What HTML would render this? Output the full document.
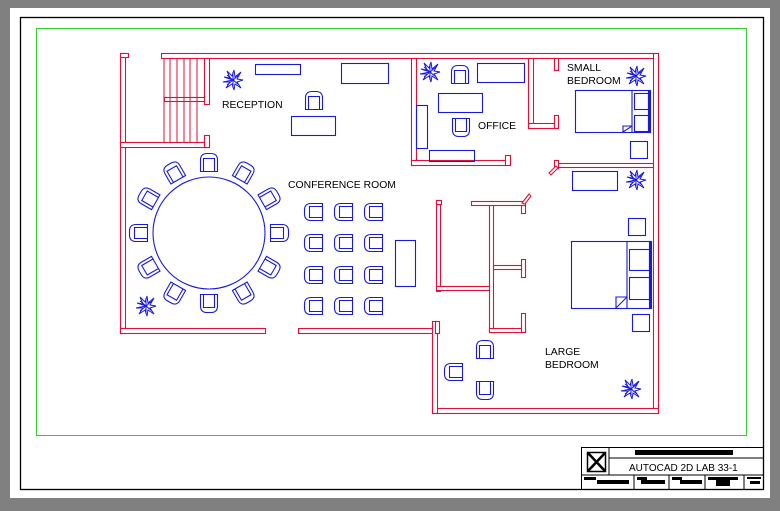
<!DOCTYPE html>
<html><head><meta charset="utf-8"><style>
body{margin:0;background:#808080;width:780px;height:511px;overflow:hidden}
svg{display:block}
text{font-family:"Liberation Sans",sans-serif;font-size:10.4px;fill:#000}
</style></head><body>
<svg width="780" height="511" viewBox="0 0 780 511" xmlns="http://www.w3.org/2000/svg">
<defs>
<g id="ch"><path d="M-8.5,8.5 V-3 Q-8.5,-9.5 -2,-9.5 H2 Q8.5,-9.5 8.5,-3 V8.5 Z M-5.5,8.5 V-4.5 H5.5 V8.5" fill="none" stroke="#1a1adc" stroke-width="1.1"/></g>
<g id="pl" stroke="#1a1adc" stroke-width="1" fill="none">
<path d="M0,0 L-9,-3 L-3,-2 L-6,-9 L-1,-4 L1,-10 L2,-3 L8,-8 L4,-1 L10,0 L4,2 L8,8 L2,4 L1,10 L-1,4 L-7,8 L-3,2 L-10,2 Z"/>
<path d="M-6,-5 L6,5 M-6,5 L6,-5 M0,-8 L0,8"/>
</g>
</defs>
<rect x="10" y="8" width="760" height="490" fill="#fff"/>
<rect x="20.5" y="17.5" width="743" height="472" fill="none" stroke="#000" stroke-width="1.3"/>
<rect x="36.5" y="28.5" width="710" height="407" fill="none" stroke="#3c3" stroke-width="1"/>

<g fill="#fff" stroke="#e0103a" stroke-width="1.1">
<rect x="120.5" y="53.5" width="5" height="280"/>
<rect x="120.5" y="53.5" width="8" height="4"/>
<rect x="161.5" y="53.5" width="497" height="5"/>
<rect x="653.5" y="53.5" width="5" height="360"/>
<rect x="120.5" y="328.5" width="145" height="5"/>
<rect x="298.5" y="328.5" width="139" height="5"/>
<rect x="432.5" y="408.5" width="226" height="5"/>
<rect x="432.5" y="321.5" width="5" height="92"/>
<rect x="120.5" y="142.5" width="89" height="5"/>
<rect x="204.5" y="58.5" width="5" height="46"/>
<rect x="204.5" y="135.5" width="5" height="12"/>
<rect x="164.5" y="97.5" width="40" height="4"/>
<rect x="411.5" y="58.5" width="5" height="107"/>
<rect x="411.5" y="160.5" width="99" height="5"/>
<rect x="505.5" y="155.5" width="5" height="10"/>
<rect x="528.5" y="58.5" width="5" height="70"/>
<rect x="528.5" y="123.5" width="29" height="5"/>
<rect x="554.5" y="115.5" width="4" height="13"/>
<rect x="554.5" y="58.5" width="4" height="12"/>
<rect x="556.5" y="163.5" width="97" height="4"/>
<rect x="554.5" y="160.5" width="4" height="8"/>
<path d="M549,173 L556,166 L558,168 L551,175 Z"/>
<rect x="436.5" y="200.5" width="4" height="91"/>
<rect x="436.5" y="200.5" width="5" height="4"/>
<rect x="436.5" y="286.5" width="53" height="4"/>
<rect x="489.5" y="201.5" width="4" height="131"/>
<rect x="471.5" y="201.5" width="54" height="4"/>
<path d="M522,203 L529,194 L531,196 L525,204 Z"/>
<rect x="521.5" y="205.5" width="4" height="8"/>
<rect x="493.5" y="265.5" width="32" height="4"/>
<rect x="521.5" y="259.5" width="4" height="18"/>
<rect x="489.5" y="328.5" width="36" height="4"/>
<rect x="521.5" y="313.5" width="4" height="19"/>
<rect x="435.5" y="321.5" width="4" height="12"/>
</g>
<g stroke="#e0103a" stroke-width="1">
<line x1="164" y1="58" x2="164" y2="142"/>
<line x1="170" y1="58" x2="170" y2="142"/><line x1="177" y1="58" x2="177" y2="142"/>
<line x1="184" y1="58" x2="184" y2="142"/><line x1="190" y1="58" x2="190" y2="142"/>
<line x1="197" y1="58" x2="197" y2="142"/>
</g>

<g fill="none" stroke="#1a1adc" stroke-width="1.1">
<circle cx="209" cy="233" r="56"/>
<rect x="255.5" y="64.5" width="45" height="10"/>
<rect x="341.5" y="63.5" width="47" height="20"/>
<rect x="291.5" y="116.5" width="44" height="19"/>
<rect x="477.5" y="63.5" width="47" height="19"/>
<rect x="438.5" y="93.5" width="44" height="19"/>
<rect x="416.5" y="105.5" width="11" height="43"/>
<rect x="429.5" y="150.5" width="45" height="11"/>
<rect x="395.5" y="240.5" width="20" height="46"/>
<rect x="575.5" y="90.5" width="74" height="42"/>
<line x1="632" y1="90" x2="632" y2="132"/>
<rect x="634.5" y="93.5" width="14" height="16"/><rect x="634.5" y="115.5" width="14" height="16"/>
<rect x="648.5" y="90.5" width="2" height="42"/>
<path d="M623,132 L623,126 L632,126"/><line x1="623" y1="132" x2="632" y2="126"/>
<rect x="630.5" y="141.5" width="17" height="17"/>
<rect x="572.5" y="171.5" width="45" height="19"/>
<rect x="628.5" y="218.5" width="17" height="17"/>
<rect x="571.5" y="241.5" width="79" height="67"/>
<line x1="627" y1="241" x2="627" y2="308"/>
<rect x="629.5" y="249.5" width="20" height="21"/><rect x="629.5" y="277.5" width="20" height="22"/>
<rect x="649.5" y="241.5" width="2" height="67"/>
<path d="M616,308 L616,297 L627,297"/><line x1="616" y1="308" x2="627" y2="297"/>
<rect x="632.5" y="314.5" width="17" height="17"/>
</g>

<g transform="translate(209,233)">
<use href="#ch" transform="rotate(0) translate(0,-70)"/>
<use href="#ch" transform="rotate(30) translate(0,-70)"/>
<use href="#ch" transform="rotate(60) translate(0,-70)"/>
<use href="#ch" transform="rotate(90) translate(0,-70)"/>
<use href="#ch" transform="rotate(120) translate(0,-70)"/>
<use href="#ch" transform="rotate(150) translate(0,-70)"/>
<use href="#ch" transform="rotate(180) translate(0,-70)"/>
<use href="#ch" transform="rotate(210) translate(0,-70)"/>
<use href="#ch" transform="rotate(240) translate(0,-70)"/>
<use href="#ch" transform="rotate(270) translate(0,-70)"/>
<use href="#ch" transform="rotate(300) translate(0,-70)"/>
<use href="#ch" transform="rotate(330) translate(0,-70)"/>
</g>
<g>
<use href="#ch" transform="translate(314,212) rotate(-90)"/><use href="#ch" transform="translate(344,212) rotate(-90)"/><use href="#ch" transform="translate(374,212) rotate(-90)"/>
<use href="#ch" transform="translate(314,243) rotate(-90)"/><use href="#ch" transform="translate(344,243) rotate(-90)"/><use href="#ch" transform="translate(374,243) rotate(-90)"/>
<use href="#ch" transform="translate(314,275) rotate(-90)"/><use href="#ch" transform="translate(344,275) rotate(-90)"/><use href="#ch" transform="translate(374,275) rotate(-90)"/>
<use href="#ch" transform="translate(314,306) rotate(-90)"/><use href="#ch" transform="translate(344,306) rotate(-90)"/><use href="#ch" transform="translate(374,306) rotate(-90)"/>
<use href="#ch" transform="translate(314,101)"/>
<use href="#ch" transform="translate(460,75)"/>
<use href="#ch" transform="translate(461,127) rotate(180)"/>
<use href="#ch" transform="translate(485,350)"/>
<use href="#ch" transform="translate(454,372) rotate(-90)"/>
<use href="#ch" transform="translate(485,390) rotate(180)"/>
</g>
<use href="#pl" transform="translate(233,80)"/>
<use href="#pl" transform="translate(430,72)"/>
<use href="#pl" transform="translate(636,76)"/>
<use href="#pl" transform="translate(636,180)"/>
<use href="#pl" transform="translate(146,306)"/>
<use href="#pl" transform="translate(631,389)"/>

<text x="222" y="108">RECEPTION</text>
<text x="288" y="188">CONFERENCE ROOM</text>
<text x="478" y="129">OFFICE</text>
<text x="567" y="71">SMALL</text>
<text x="567" y="84">BEDROOM</text>
<text x="545" y="355">LARGE</text>
<text x="545" y="368">BEDROOM</text>

<g fill="none" stroke="#000" stroke-width="1">
<rect x="581.5" y="447.5" width="182" height="42"/>
<line x1="609" y1="447" x2="609" y2="475"/>
<line x1="609" y1="458" x2="764" y2="458"/>
<line x1="581" y1="475" x2="764" y2="475"/>
<line x1="634" y1="475" x2="634" y2="489"/>
<line x1="669" y1="475" x2="669" y2="489"/>
<line x1="705" y1="475" x2="705" y2="489"/>
<line x1="744" y1="475" x2="744" y2="489"/>
<rect x="587.5" y="452.5" width="18" height="19" stroke-width="1.5"/>
<path d="M588,453 L605,471 M605,453 L588,471" stroke-width="2.5"/>
</g>
<g fill="#000">
<rect x="635" y="450" width="98" height="5"/>
<rect x="584" y="477" width="12" height="3"/><rect x="597" y="480" width="32" height="4"/>
<rect x="637" y="477" width="10" height="3"/><rect x="641" y="480" width="24" height="4"/>
<rect x="672" y="477" width="10" height="3"/><rect x="680" y="480" width="22" height="4"/>
<rect x="708" y="477" width="30" height="3"/><rect x="716" y="480" width="14" height="6"/>
<rect x="747" y="477" width="14" height="2"/><rect x="750" y="481" width="10" height="3"/>
</g>
<text x="629" y="471" style="font-size:10px">AUTOCAD 2D LAB 33-1</text>
</svg>
</body></html>
